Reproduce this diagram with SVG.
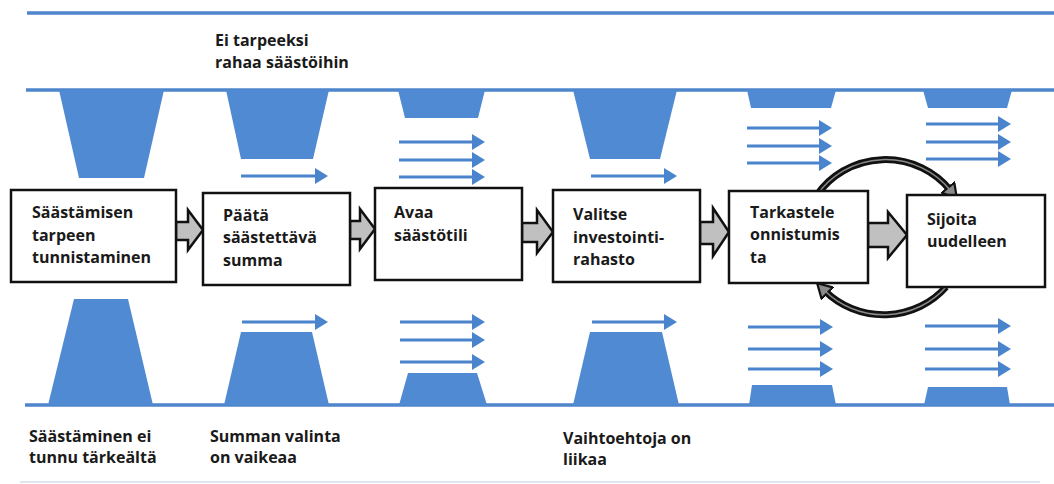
<svg xmlns="http://www.w3.org/2000/svg" width="1054" height="484" viewBox="0 0 1054 484">
<style>
.band{stroke:#4e86cc;stroke-width:3.5;fill:none}
.trap{fill:#508ad2}
.thin{stroke:#4a84cc;stroke-width:3.2;fill:none}
.box{fill:#fff;stroke:#111;stroke-width:2.5}
.blk{fill:#c0c0c0;stroke:#111;stroke-width:2.5;stroke-linejoin:miter}
.t{font-family:"Open Sans","Liberation Sans",sans-serif;font-weight:700;font-size:16px;fill:#1a1a1a}
.arcO{fill:none;stroke:#111;stroke-width:7}
.arcI{fill:none;stroke:#8a8a8a;stroke-width:1.5}
</style>
<defs>
<marker id="ah" viewBox="0 0 13 16" markerWidth="13" markerHeight="16" refX="5" refY="8" orient="auto" markerUnits="userSpaceOnUse">
<path d="M0,0 L13,8 L0,16 z" fill="#4a84cc"/>
</marker>
<marker id="ca" viewBox="0 0 16 18" markerWidth="16" markerHeight="18" refX="4" refY="9" orient="auto" markerUnits="userSpaceOnUse">
<path d="M1,1 L15,9 L1,17 z" fill="#8a8a8a" stroke="#111" stroke-width="2.2"/>
</marker>
</defs>
<rect width="1054" height="484" fill="#fff"/>

<g id="rails">
<line class="band" x1="27" y1="13" x2="1054" y2="13"/>
<line class="band" x1="26" y1="90" x2="1054" y2="90"/>
<line class="band" x1="25" y1="405" x2="1054" y2="405"/>
<line x1="20" y1="482" x2="1040" y2="482" stroke="#dde7f1" stroke-width="2"/>
</g>

<g id="top-barriers">
<polygon class="trap" points="59,90 164,90 144,178 79,178"/>
<polygon class="trap" points="226,90 329,90 313,159 241,159"/>
<polygon class="trap" points="398,90 485,90 478,118 405,118"/>
<polygon class="trap" points="573,90 677,90 660,159 590,159"/>
<polygon class="trap" points="747,90 836,90 831,108 751,108"/>
<polygon class="trap" points="923,90 1012,90 1007,108 928,108"/>
</g>

<g id="bottom-barriers">
<polygon class="trap" points="48,405 153,405 128,299 74,299"/>
<polygon class="trap" points="224,405 329,405 312,332 241,332"/>
<polygon class="trap" points="399,405 487,405 477,373 408,373"/>
<polygon class="trap" points="573,405 679,405 662,332 590,332"/>
<polygon class="trap" points="749,405 836,405 832,385 752,385"/>
<polygon class="trap" points="924,405 1010,405 1007,387 928,387"/>
</g>

<g id="flow-arrows">
<line class="thin" marker-end="url(#ah)" x1="241" y1="176" x2="320" y2="176"/>
<line class="thin" marker-end="url(#ah)" x1="399" y1="142" x2="477" y2="142"/>
<line class="thin" marker-end="url(#ah)" x1="399" y1="160" x2="477" y2="160"/>
<line class="thin" marker-end="url(#ah)" x1="399" y1="177" x2="477" y2="177"/>
<line class="thin" marker-end="url(#ah)" x1="591" y1="176" x2="669" y2="176"/>
<line class="thin" marker-end="url(#ah)" x1="747" y1="128" x2="824" y2="128"/>
<line class="thin" marker-end="url(#ah)" x1="747" y1="146" x2="824" y2="146"/>
<line class="thin" marker-end="url(#ah)" x1="747" y1="163" x2="824" y2="163"/>
<line class="thin" marker-end="url(#ah)" x1="926" y1="124" x2="1003" y2="124"/>
<line class="thin" marker-end="url(#ah)" x1="926" y1="142" x2="1003" y2="142"/>
<line class="thin" marker-end="url(#ah)" x1="926" y1="159" x2="1003" y2="159"/>

<line class="thin" marker-end="url(#ah)" x1="242" y1="322" x2="320" y2="322"/>
<line class="thin" marker-end="url(#ah)" x1="400" y1="322" x2="477" y2="322"/>
<line class="thin" marker-end="url(#ah)" x1="400" y1="340" x2="477" y2="340"/>
<line class="thin" marker-end="url(#ah)" x1="400" y1="362" x2="477" y2="362"/>
<line class="thin" marker-end="url(#ah)" x1="592" y1="322" x2="669" y2="322"/>
<line class="thin" marker-end="url(#ah)" x1="748" y1="327" x2="825" y2="327"/>
<line class="thin" marker-end="url(#ah)" x1="748" y1="349" x2="825" y2="349"/>
<line class="thin" marker-end="url(#ah)" x1="748" y1="369" x2="825" y2="369"/>
<line class="thin" marker-end="url(#ah)" x1="925" y1="326" x2="1003" y2="326"/>
<line class="thin" marker-end="url(#ah)" x1="925" y1="349" x2="1003" y2="349"/>
<line class="thin" marker-end="url(#ah)" x1="925" y1="369" x2="1003" y2="369"/>
</g>

<g id="connectors">
<path class="blk" d="M176,222 L188,222 L188,210 L203,230 L188,250 L188,240 L176,240 z"/>
<path class="blk" d="M350,221 L360,221 L360,209 L375,229 L360,249 L360,239 L350,239 z"/>
<path class="blk" d="M522,223 L537,223 L537,210 L553,232 L537,253 L537,242 L522,242 z"/>
<path class="blk" d="M700,222 L713,222 L713,208 L729,232 L713,256 L713,244 L700,244 z"/>
<path class="blk" d="M868,223 L888,223 L888,212 L907,235 L888,258 L888,247 L868,247 z"/>
<path class="arcO" marker-end="url(#ca)" d="M817,195 A82,79 0 0 1 950,190"/>
<path class="arcI" d="M817,195 A82,79 0 0 1 950,190"/>
<path class="arcO" marker-end="url(#ca)" d="M946,287 A82,79 0 0 1 825,291"/>
<path class="arcI" d="M946,287 A82,79 0 0 1 825,291"/>
</g>

<g id="n1">
<rect class="box" x="11" y="190" width="165" height="92"/>
<text class="t" x="32" y="218">Säästämisen</text>
<text class="t" x="32" y="241">tarpeen</text>
<text class="t" x="32" y="263">tunnistaminen</text>
</g>
<g id="n2">
<rect class="box" x="203" y="193" width="147" height="92"/>
<text class="t" x="223" y="221">Päätä</text>
<text class="t" x="223" y="243">säästettävä</text>
<text class="t" x="223" y="266">summa</text>
</g>
<g id="n3">
<rect class="box" x="375" y="188" width="147" height="92"/>
<text class="t" x="394" y="218">Avaa</text>
<text class="t" x="394" y="241">säästötili</text>
</g>
<g id="n4">
<rect class="box" x="553" y="190" width="147" height="92"/>
<text class="t" x="573" y="220">Valitse</text>
<text class="t" x="573" y="243">investointi-</text>
<text class="t" x="573" y="265">rahasto</text>
</g>
<g id="n5">
<rect class="box" x="729" y="191" width="139" height="92"/>
<text class="t" x="750" y="218">Tarkastele</text>
<text class="t" x="750" y="240">onnistumis</text>
<text class="t" x="750" y="263">ta</text>
</g>
<g id="n6">
<rect class="box" x="907" y="195" width="138" height="92" stroke-width="3"/>
<text class="t" x="927" y="225">Sijoita</text>
<text class="t" x="927" y="247">uudelleen</text>
</g>

<g id="labels">
<text class="t" x="215" y="46">Ei tarpeeksi</text>
<text class="t" x="215" y="68">rahaa säästöihin</text>
<text class="t" x="29" y="442">Säästäminen ei</text>
<text class="t" x="29" y="463">tunnu tärkeältä</text>
<text class="t" x="210" y="442">Summan valinta</text>
<text class="t" x="210" y="463">on vaikeaa</text>
<text class="t" x="563" y="444">Vaihtoehtoja on</text>
<text class="t" x="563" y="465">liikaa</text>
</g>
</svg>
